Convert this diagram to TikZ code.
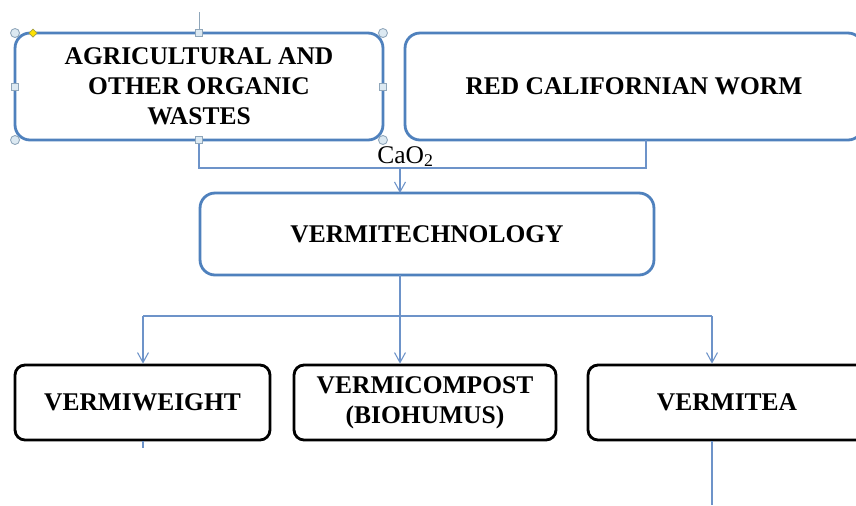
\documentclass[tikz,border=0pt]{standalone}
\usepackage{fontspec}
\setmainfont{Liberation Serif}
\usetikzlibrary{arrows.meta}
\definecolor{boxblue}{HTML}{4F81BD}
\definecolor{linkblue}{HTML}{6D93C9}
\definecolor{handlefill}{HTML}{DCE9F2}
\definecolor{handledraw}{HTML}{8FA6BA}

\begin{document}
\begin{tikzpicture}[x=0.02cm, y=-0.02cm,
	every node/.style={font=\fontsize{14.5}{17}\selectfont\bfseries, align=center, inner sep=0pt},
	bluebox/.style={draw=boxblue, line width=1.6pt, rounded corners=0.3cm, outer sep=0pt},
	blackbox/.style={draw=black, line width=1.6pt, rounded corners=0.2cm, minimum height=1.5cm},
	link/.style={draw=linkblue, line width=0.6pt},
	arr/.style={link, -{Straight Barb[length=0.2cm, width=0.22cm]}},
	grip/.style={fill=handlefill, draw=handledraw, line width=0.5pt}]
	\clip (0,0) rectangle (856,505);
	\fill[white] (0,0) rectangle (856,505);
	% top row
	\node[bluebox, minimum width=7.36cm, minimum height=2.14cm] (agri) at (199,86.5) {AGRICULTURAL AND\\ OTHER ORGANIC\\ WASTES};
	\node[bluebox, minimum width=9.16cm, minimum height=2.14cm] (worm) at (634,86.5) {RED CALIFORNIAN WORM};
	\node[bluebox, minimum width=9.08cm, minimum height=1.64cm] (vtech) at (427,234) {VERMITECHNOLOGY};
	% products
	\node[blackbox, minimum width=5.1cm] (vweight) at (142.5,402.5) {VERMIWEIGHT};
	\node[blackbox, minimum width=5.24cm] (vcompost) at (425,402.5) {VERMICOMPOST\\ (BIOHUMUS)};
	\node[blackbox, minimum width=5.56cm] (vtea) at (727,402.5) {VERMITEA};
	% connectors
	\coordinate (merge) at (400,168);
	\coordinate (wormIn) at (646,140);
	\coordinate (fork) at (400,316);
	\coordinate (forkL) at (143,316);
	\coordinate (forkR) at (712,316);
	\draw[link] (agri.south) |- (wormIn |- merge) -- (wormIn);
	\draw[arr] (merge) -- (vtech.north -| merge);
	\node[font=\fontsize{14.5}{17}\selectfont, anchor=base west] (cao) at (377,163) {CaO\textsubscript{2}};
	\draw[link] (vtech.south -| fork) -- (fork);
	\draw[link] (forkL) -- (forkR);
	\draw[arr] (forkL) -- (vweight.north -| forkL);
	\draw[arr] (fork) -- (vcompost.north -| fork);
	\draw[arr] (forkR) -- (vtea.north -| forkR);
	\draw[link] (vweight.south -| forkL) -- ++(0,7);
	\draw[link] (vtea.south -| forkR) -- (forkR |- 0,505);
	% selection handles
	\draw[handledraw, line width=0.5pt] (agri.north) -- (199,12);
	\foreach \p in {north west, north east, south west, south east}
		\draw[grip] (agri.\p) circle (4.5);
	\foreach \p in {north, south, west, east}
		\draw[grip] ([shift={(-3.5,-3.5)}]agri.\p) rectangle ++(7,7);
	\draw[fill=yellow!85!orange, draw=yellow!60!black, line width=0.4pt] (33,29) -- (37,33) -- (33,37) -- (29,33) -- cycle;
\end{tikzpicture}
\end{document}
